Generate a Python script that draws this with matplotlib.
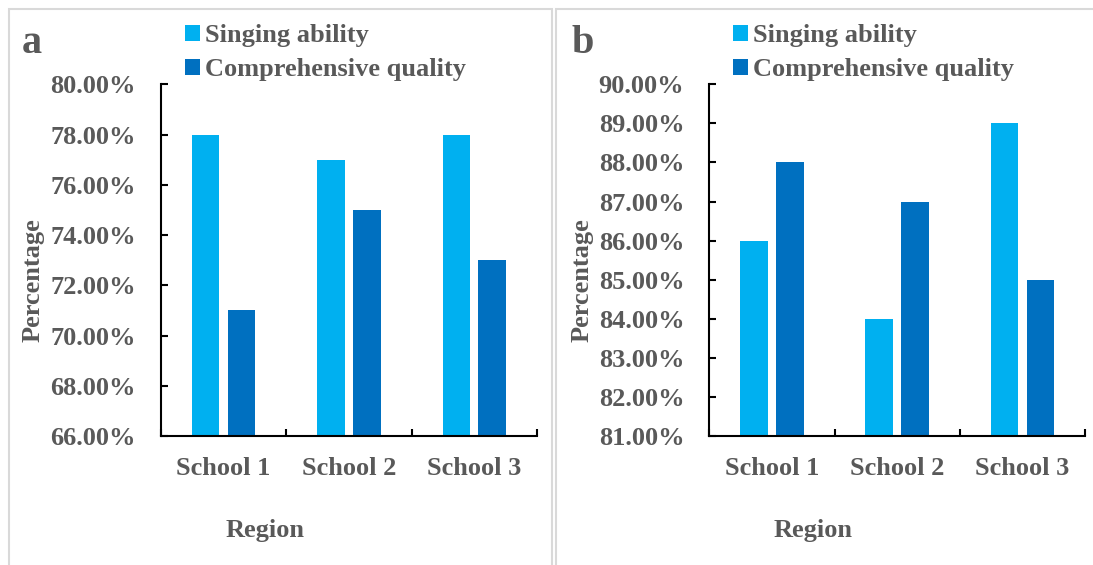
import matplotlib
matplotlib.use("Agg")
import matplotlib.pyplot as plt
from matplotlib.patches import Patch, Rectangle
import numpy as np

categories = ["School 1", "School 2", "School 3"]
series_names = ["Singing ability", "Comprehensive quality"]
a_singing = [78, 77, 78]
a_comprehensive = [71, 75, 73]
b_singing = [86, 84, 89]
b_comprehensive = [88, 87, 85]
a_ticks = [66, 68, 70, 72, 74, 76, 78, 80]
b_ticks = [81, 82, 83, 84, 85, 86, 87, 88, 89, 90]

LIGHT = "#00B0F0"
DARK = "#0070C0"
GREY = "#595959"
FONT = "Liberation Serif"
FS = 19

plt.rcParams['font.family'] = [FONT, 'DejaVu Serif']
plt.rcParams['font.weight'] = 'bold'

W, H = 1093, 565
fig = plt.figure(figsize=(W / 100, H / 100), dpi=100)

def fx(px):
    return px / W

def fy(py):
    return 1 - py / H

# panel borders
fig.patches.append(Rectangle((fx(9), fy(575)), fx(552) - fx(9), fy(9) - fy(575),
                             transform=fig.transFigure, fill=False, edgecolor="#D9D9D9", linewidth=1.5))
fig.patches.append(Rectangle((fx(556), fy(575)), fx(1100) - fx(556), fy(9) - fy(575),
                             transform=fig.transFigure, fill=False, edgecolor="#D9D9D9", linewidth=1.5))

def panel(left_px, right_px, s1, s2, ticks, letter, letter_xy, ylab_x, reg_x, leg_x):
    ax = fig.add_axes([fx(left_px), fy(436), fx(right_px) - fx(left_px), fy(84.3) - fy(436)])
    x = np.arange(len(categories))
    off, w = 0.143, 0.22
    ax.bar(x - off, s1, width=w, color=LIGHT, zorder=2)
    ax.bar(x + off, s2, width=w, color=DARK, zorder=2)
    ax.set_xlim(-0.5, len(categories) - 0.5)
    ax.set_ylim(ticks[0], ticks[-1])
    ax.set_yticks(ticks)
    ax.set_yticklabels([f"{t:.2f}%" for t in ticks], fontsize=FS, color=GREY, fontweight='bold')
    ax.set_xticks(x)
    ax.set_xticklabels(categories, fontsize=FS, color=GREY, fontweight='bold')
    ax.set_xticks(np.arange(-0.5, len(categories)), minor=True)
    ax.tick_params(axis='x', which='major', length=0, pad=15)
    ax.tick_params(axis='x', which='minor', length=5, width=1.5, direction='in')
    ax.tick_params(axis='y', which='major', length=5, width=1.5, direction='in', pad=18)
    for s in ['top', 'right']:
        ax.spines[s].set_visible(False)
    for s in ['left', 'bottom']:
        ax.spines[s].set_linewidth(1.5)
        ax.spines[s].set_color('black')
    fig.text(fx(letter_xy[0]), fy(letter_xy[1]), letter, fontsize=29, color=GREY,
             fontweight='bold', ha='left', va='baseline')
    fig.text(fx(ylab_x), fy(280), "Percentage", rotation=90, fontsize=FS, color=GREY,
             fontweight='bold', ha='center', va='center')
    fig.text(fx(reg_x), fy(530), "Region", fontsize=FS, color=GREY,
             fontweight='bold', ha='center', va='center')
    handles = [Patch(facecolor=LIGHT, edgecolor='none'), Patch(facecolor=DARK, edgecolor='none')]
    leg = fig.legend(handles, series_names, loc='upper left',
                     bbox_to_anchor=(fx(leg_x), fy(24)), frameon=False,
                     prop={'family': FONT, 'weight': 'bold', 'size': FS},
                     handlelength=0.55, handleheight=0.55, handletextpad=0.2,
                     labelspacing=0.42, borderpad=0, borderaxespad=0)
    for t in leg.get_texts():
        t.set_color(GREY)
    return ax

panel(160.7, 537, a_singing, a_comprehensive, a_ticks, "a", (22, 53), 33, 265.5, 185)
panel(709.3, 1085, b_singing, b_comprehensive, b_ticks, "b", (572, 53), 581.6, 813, 733)

fig.savefig("out.png", dpi=100)
